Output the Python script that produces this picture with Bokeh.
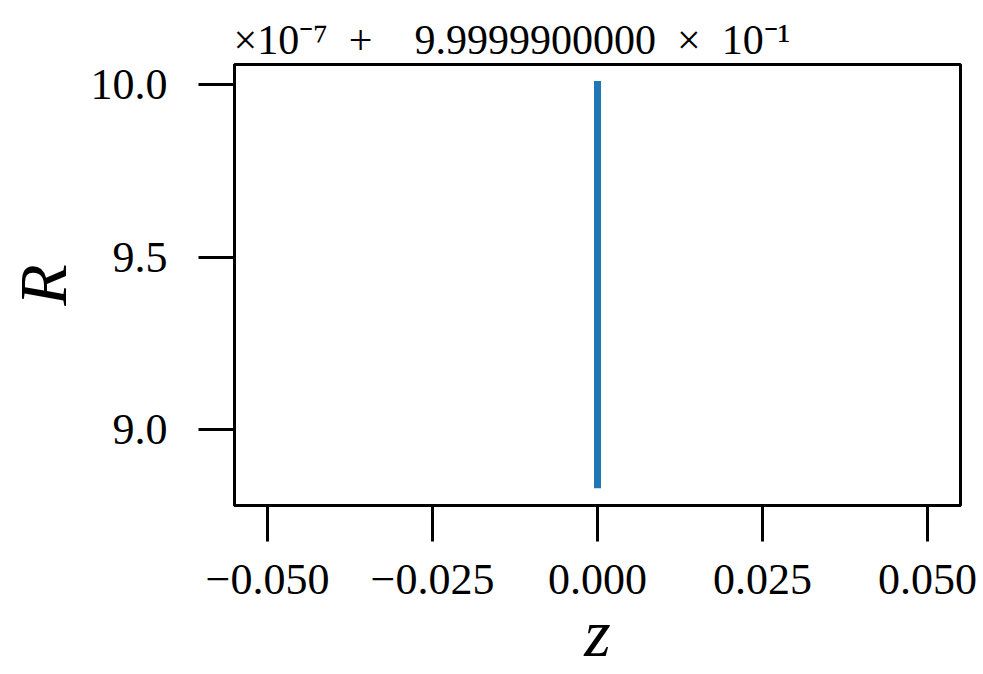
from bokeh.plotting import figure
from bokeh.models import Range1d, FixedTicker, CustomJSTickFormatter, Title
from bokeh.embed import file_html
from bokeh.resources import INLINE

# ---- data (R shown in units of 1e-7, offset 0.999999) ----
z_values = [0.0, 0.0, 0.0]
R_values = [10.0, 9.65, 8.84]

x_ticks = [-0.050, -0.025, 0.0, 0.025, 0.050]
x_tick_labels = ["\u22120.050", "\u22120.025", "0.000", "0.025", "0.050"]
y_ticks = [9.0, 9.5, 10.0]
y_tick_labels = ["9.0", "9.5", "10.0"]

offset_parts = ["\u00d710\u207b\u2077", "+", "9.9999900000", "\u00d7", "10\u207b\u00b9"]
offset_text = (offset_parts[0] + "\u2002" + offset_parts[1] + "\u2003" + offset_parts[2]
               + "\u2002" + offset_parts[3] + "\u2002" + offset_parts[4])

FONT = "Liberation Serif"

p = figure(width=983, height=674, output_backend="svg", toolbar_location=None,
           x_range=Range1d(-0.055, 0.055), y_range=Range1d(8.780, 10.058),
           min_border_left=234, min_border_right=23, min_border_top=64,
           min_border_bottom=169)
p.background_fill_color = "white"
p.border_fill_color = "white"
p.grid.visible = False
p.outline_line_color = "black"
p.outline_line_width = 3
p.outline_line_alpha = 1.0

p.line(z_values, R_values, line_width=7, line_color="#1f77b4", line_cap="square")

fmt_code = """
for (let i = 0; i < ticks_v.length; i++) {
  if (Math.abs(ticks_v[i] - tick) < 1e-9) { return labels[i]; }
}
return "";
"""
p.xaxis.ticker = FixedTicker(ticks=x_ticks)
p.yaxis.ticker = FixedTicker(ticks=y_ticks)
p.xaxis.formatter = CustomJSTickFormatter(args=dict(ticks_v=x_ticks, labels=x_tick_labels), code=fmt_code)
p.yaxis.formatter = CustomJSTickFormatter(args=dict(ticks_v=y_ticks, labels=y_tick_labels), code=fmt_code)

for ax in (p.xaxis[0], p.yaxis[0]):
    ax.major_tick_out = 36
    ax.major_tick_in = 0
    ax.major_tick_line_width = 3
    ax.major_tick_line_color = "black"
    ax.minor_tick_line_color = None
    ax.axis_line_width = 3
    ax.axis_line_color = "black"
    ax.major_label_text_font = FONT
    ax.major_label_text_font_size = "44px"
    ax.major_label_text_color = "black"
    ax.axis_label_text_font = FONT
    ax.axis_label_text_font_size = "68px"
    ax.axis_label_text_font_style = "italic"
    ax.axis_label_text_color = "black"

p.xaxis.axis_label = "z"
p.yaxis.axis_label = "R"
p.xaxis.major_label_standoff = 23
p.yaxis.major_label_standoff = 31
p.xaxis.axis_label_standoff = -2
p.yaxis.axis_label_standoff = 7

title = Title(text=offset_text, align="left", offset=-1, standoff=4,
              text_font=FONT, text_font_size="42px", text_font_style="normal",
              text_color="black")
p.add_layout(title, "above")

open("out.html", "w").write(file_html(p, INLINE))
